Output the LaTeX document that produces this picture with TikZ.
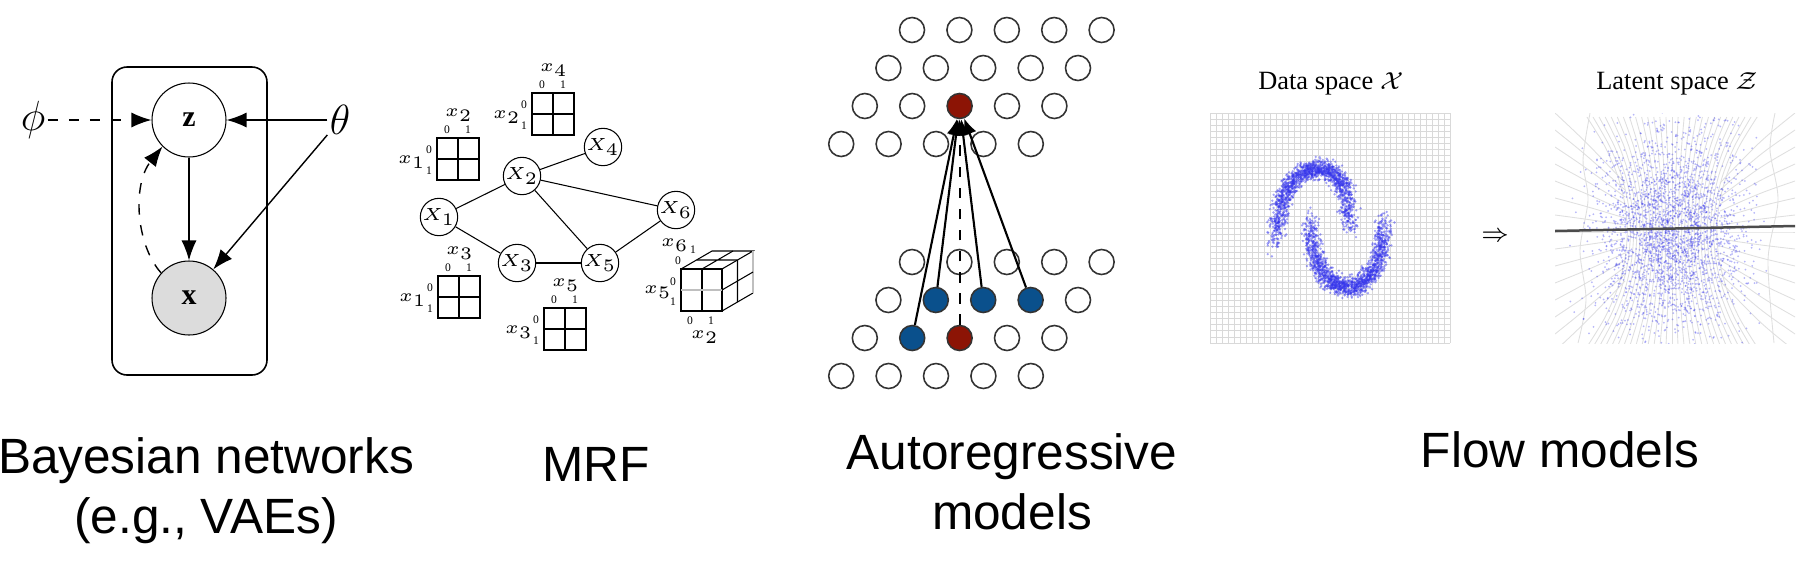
\documentclass[tikz,border=0pt]{standalone}
\usepackage{fontspec}
\setmainfont{Liberation Serif}
\newfontfamily\capfont{Liberation Sans}
\usetikzlibrary{arrows.meta,positioning}
\definecolor{arred}{RGB}{140,20,5}
\definecolor{arblue}{RGB}{10,80,140}
\definecolor{obsgray}{RGB}{220,220,220}
\definecolor{dotblue}{RGB}{50,50,235}

\begin{document}
\begin{tikzpicture}[x=0.1mm,y=-0.1mm,
  bnvar/.style={circle,draw,line width=0.3pt,minimum size=7.4mm,inner sep=0pt,font=\fontsize{8.5}{9}\selectfont},
  bnarrow/.style={-{Latex[length=2mm,width=1.5mm]},line width=0.4pt},
  mnode/.style={circle,draw,line width=0.3pt,minimum size=3mm,inner sep=0pt,font=\fontsize{4.3}{5}\selectfont},
  tlab/.style={inner sep=0pt,font=\fontsize{3.3}{4}\selectfont},
  cell/.style={line width=0.3pt},
  arnode/.style={circle,draw=black!80,line width=0.45pt,minimum size=2.5mm,inner sep=0pt},
  ararrow/.style={-{Latex[length=1.6mm,width=1.4mm]},line width=0.6pt},
  gline/.style={gray!30,line width=0.2pt},
  wline/.style={gray!25,line width=0.25pt},
  dots/.style={dotblue,opacity=0.35},
  caption/.style={font=\capfont\fontsize{14.1}{17}\selectfont,align=center,anchor=base}
]
\useasboundingbox (0,0) rectangle (1806,562);
\pgfmathsetseed{7}

% Bayesian network
\draw[rounded corners=1.5mm,line width=0.45pt] (112,67) rectangle (267,375);
\node[bnvar] (z) at (189,120) {$\mathbf{z}$};
\node[bnvar,fill=obsgray] (x) at (189,298) {$\mathbf{x}$};
\node[inner sep=0.5pt,font=\fontsize{11.5}{12}\selectfont] (phi) at (33,120) {$\phi$};
\node[inner sep=0.5pt,font=\fontsize{11.5}{12}\selectfont] (theta) at (340,120) {$\theta$};
\draw[bnarrow,dashed] (phi) -- (z);
\draw[bnarrow] (theta) -- (z);
\draw[bnarrow] (theta) -- (x);
\draw[bnarrow] (z) -- (x);
\draw[bnarrow,dashed] (x.138) .. controls (136,245) and (132,185) .. (z.225);

% MRF
\node[mnode] (X1) at (439,217) {$X_1$};
\node[mnode] (X2) at (522,176) {$X_2$};
\node[mnode] (X3) at (517,263) {$X_3$};
\node[mnode] (X4) at (603,147) {$X_4$};
\node[mnode] (X5) at (600,263) {$X_5$};
\node[mnode] (X6) at (676,210) {$X_6$};
\foreach \a/\b in {X1/X2,X1/X3,X2/X4,X2/X6,X2/X5,X3/X5,X5/X6}
  \draw[line width=0.3pt] (\a) -- (\b);
% pairwise tables
\foreach \x/\y/\tv/\lv [count=\n] in {437/138/x_2/x_1,438/276/x_3/x_1,532/93/x_4/x_2,544/308/x_5/x_3} {
  \draw[cell] (\x,\y) rectangle ++(42,42);
  \draw[cell] (\x+21,\y) -- ++(0,42) (\x,\y+21) -- ++(42,0);
  \node[tlab] (t\n-top) at (\x+22,\y-23) {$\tv$};
  \node[tlab] (t\n-c0) at (\x+10,\y-8) {0};
  \node[tlab] (t\n-c1) at (\x+31,\y-8) {1};
  \node[tlab] (t\n-left) at (\x-25,\y+24) {$\lv$};
  \node[tlab] (t\n-r0) at (\x-8,\y+12) {0};
  \node[tlab] (t\n-r1) at (\x-8,\y+33) {1};
}
% three-way table
\draw[cell] (681,269) rectangle (722,311);
\draw[cell] (702,269) -- (702,311);
\draw[cell,gray!50] (681,290) -- (722,290);
\draw[cell] (681,269) -- (712,251) -- (753,251) -- (722,269);
\draw[cell] (702,269) -- (733,251) (696.5,260) -- (737.5,260);
\draw[cell] (722,311) -- (753,293);
\draw[cell,gray!50] (753,251) -- (753,293);
\draw[cell] (737.5,260) -- (737.5,302) (722,290) -- (753,272);
\node[tlab] (c-top) at (675,245) {$x_6$};
\node[tlab] (c-d0) at (678,261) {0};
\node[tlab] (c-d1) at (693,250) {1};
\node[tlab] (c-left) at (658,292) {$x_5$};
\node[tlab] (c-r0) at (673,282) {0};
\node[tlab] (c-r1) at (673,302) {1};
\node[tlab] (c-b0) at (690,321) {0};
\node[tlab] (c-b1) at (711,321) {1};
\node[tlab] (c-bot) at (705,337) {$x_2$};

% Autoregressive
\foreach \r/\y in {1/30,2/68,3/106,4/144,5/262,6/300,7/338,8/376} {
  \foreach \c in {0,...,4} {
    \def\fc{white}
    \ifnum\r\c=32 \def\fc{arred}\fi
    \ifnum\r\c=72 \def\fc{arred}\fi
    \ifnum\r\c=61 \def\fc{arblue}\fi
    \ifnum\r\c=62 \def\fc{arblue}\fi
    \ifnum\r\c=63 \def\fc{arblue}\fi
    \ifnum\r\c=71 \def\fc{arblue}\fi
    \node[arnode,fill=\fc] (a\r\c) at ({912-mod(\r-1,4)*23.6+\c*47.4},\y) {};
  }
}
\foreach \s in {a71,a61,a62,a63}
  \draw[ararrow] (\s) -- (a32);
\draw[ararrow,dashed] (a72) -- (a32);

% Flow models: data space
\foreach \i in {0,...,40}
  \draw[gline] ({1210+\i*6},113) -- ++(0,230);
\foreach \j in {0,...,38}
  \draw[gline] (1210,{113+\j*6.05}) -- ++(240,0);
\foreach \k in {1,...,14} {
  \fill[dots,opacity=0.45] \foreach \i [evaluate=\i as \t using 2+176*rnd] in {1,...,110}
    { ({1313-36*cos(\t)+4.5*(rand+rand+rand)},{251-82*pow(sin(\t),0.6)+7*cos(\t)+4.5*(rand+rand+rand)}) circle (1.3) };
  \fill[dots,opacity=0.45] \foreach \i [evaluate=\i as \t using 2+176*rnd] in {1,...,110}
    { ({1347-36*cos(\t)+4.5*(rand+rand+rand)},{205+82*pow(sin(\t),0.6)+4.5*(rand+rand+rand)}) circle (1.3) };
}
\node (dtitle) at (1331,84) {\fontsize{7.5}{8}\selectfont Data space $\mathcal{X}$};
\node (imp) at (1495,237) {\fontsize{7}{8}\selectfont$\Rightarrow$};

% Flow models: latent space
\node (ltitle) at (1677,84) {\fontsize{7.5}{8}\selectfont Latent space $\mathcal{Z}$};
\begin{scope}
\clip (1555,113) rectangle (1795,343);
\foreach \k in {-14,...,14}
  \draw[wline] plot[domain=-1:1,samples=9,variable=\s,smooth] ({1672+\k*3.2*(1+0.9*\s*\s)},{232+115*\s});
\draw[wline] plot[smooth] coordinates {(1590,113) (1583,160) (1588,200) (1580,250) (1586,300) (1578,343)};
\draw[wline] plot[smooth] coordinates {(1775,113) (1770,150) (1778,200) (1768,260) (1774,343)};
\foreach \j in {-7,...,7} {
  \draw[wline] (1555,{232+\j*17}) .. controls (1585,{232+\j*13}) .. (1625,{232+\j*7});
  \draw[wline] (1795,{232+\j*17}) .. controls (1760,{232+\j*13}) .. (1720,{232+\j*7});
}
\foreach \k in {1,...,24}
  \fill[dots] \foreach \i in {1,...,120}
    { ({1672+36*(rand+rand+rand)},{232+48*(rand+rand+rand)}) circle (1) };
\draw[black!70,line width=0.25mm] (1555,231) -- (1795,226);
\end{scope}

% captions
\node[caption] (cap1) at (206,533) {Bayesian networks\\(e.g., VAEs)};
\node[caption] (cap2) at (596,481) {MRF};
\node[caption] (cap3) at (1012,529) {Autoregressive\\models};
\node[caption] (cap4) at (1560,467) {Flow models};
\end{tikzpicture}
\end{document}
